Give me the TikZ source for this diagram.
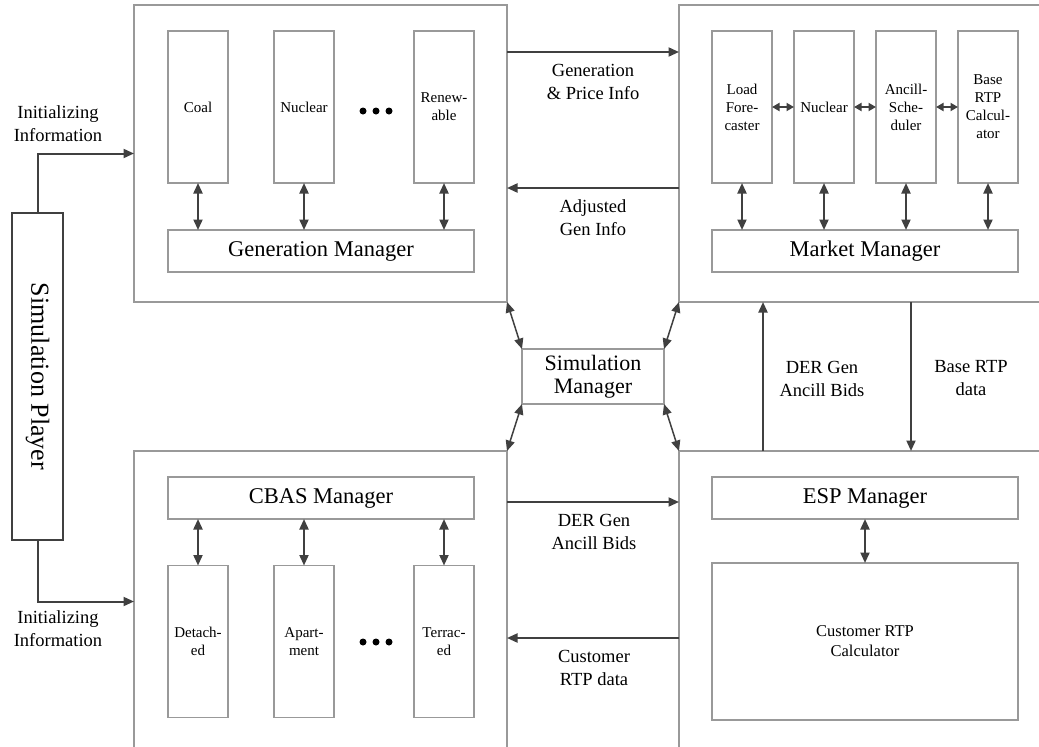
\documentclass[tikz,border=0pt]{standalone}
\usepackage{fontspec}
\setmainfont{Liberation Serif}
\usepackage{tikz}
\usetikzlibrary{arrows.meta}
\definecolor{boxgray}{HTML}{999999}
\definecolor{linegray}{HTML}{404040}

\begin{document}
\begin{tikzpicture}[x=1pt, y=-1pt,
  >={Triangle[length=10.5pt, width=9pt]},
  bigbox/.style={draw=boxgray, line width=1.2, inner sep=0, outer sep=0},
  unit/.style={draw=boxgray, line width=1.2, minimum width=60, minimum height=152,
    inner sep=0, outer sep=0, align=center, font=\fontsize{15}{18}\selectfont},
  mgr/.style={draw=boxgray, line width=1.2, minimum width=306, minimum height=42,
    inner sep=0, outer sep=0, font=\fontsize{22.5}{27}\selectfont},
  lbl/.style={align=center, inner sep=0, font=\fontsize{18.5}{23}\selectfont},
  link/.style={->, draw=linegray, line width=2},
  dlink/.style={<->, draw=linegray, line width=2},
  hlink/.style={{Triangle[length=7.5pt, width=8pt]}-{Triangle[length=7.5pt, width=8pt]}, draw=linegray, line width=2},
  slink/.style={<->, draw=linegray, line width=1.5}]
  \fill[white] (0,0) rectangle (1039,747);
  \useasboundingbox (0,0) rectangle (1039,747);
  \clip (0,0) rectangle (1039,747);

  % Simulation player
  \node[draw=linegray, line width=1.2, minimum width=51, minimum height=327, inner sep=0, outer sep=0] (player) at (37.5,376.5) {};
  \node[rotate=-90, font=\fontsize{26}{30}\selectfont] (playertxt) at (37.5,376.5) {Simulation Player};

  % Generation side
  \node[bigbox, minimum width=373, minimum height=297] (gen) at (320.5,153.5) {};
  \node[unit] (coal) at (198,107) {Coal};
  \node[unit] (gnuc) at (304,107) {Nuclear};
  \node[unit] (renew) at (444,107) {Renew-\\able};
  \node[mgr] (genm) at (321,251) {Generation Manager};
  \foreach \dx in {-13,0,13} \fill[black] (376+\dx,111) circle (3.5);
  \draw[dlink] (coal.south) -- (coal.south |- genm.north);
  \draw[dlink] (gnuc.south) -- (gnuc.south |- genm.north);
  \draw[dlink] (renew.south) -- (renew.south |- genm.north);

  % Market side
  \node[bigbox, minimum width=366, minimum height=297] (mkt) at (862,153.5) {};
  \node[unit] (load) at (742,107) {Load\\Fore-\\caster};
  \node[unit] (mnuc) at (824,107) {Nuclear};
  \node[unit] (ancill) at (906,107) {Ancill-\\Sche-\\duler};
  \node[unit] (basertp) at (988,107) {Base\\RTP\\Calcul-\\ator};
  \node[mgr] (mktm) at (865,251) {Market Manager};
  \draw[hlink] (load.east) -- (mnuc.west);
  \draw[hlink] (mnuc.east) -- (ancill.west);
  \draw[hlink] (ancill.east) -- (basertp.west);
  \draw[dlink] (load.south) -- (load.south |- mktm.north);
  \draw[dlink] (mnuc.south) -- (mnuc.south |- mktm.north);
  \draw[dlink] (ancill.south) -- (ancill.south |- mktm.north);
  \draw[dlink] (basertp.south) -- (basertp.south |- mktm.north);

  % CBAS side
  \node[bigbox, minimum width=373, minimum height=301] (cbas) at (320.5,601.5) {};
  \node[mgr] (cbasm) at (321,498) {CBAS Manager};
  \node[unit] (detached) at (198,641.5) {Detach-\\ed};
  \node[unit] (apart) at (304,641.5) {Apart-\\ment};
  \node[unit] (terraced) at (444,641.5) {Terrac-\\ed};
  \foreach \dx in {-13,0,13} \fill[black] (376+\dx,642) circle (3.5);
  \draw[dlink] (detached.north) -- (detached.north |- cbasm.south);
  \draw[dlink] (apart.north) -- (apart.north |- cbasm.south);
  \draw[dlink] (terraced.north) -- (terraced.north |- cbasm.south);

  % ESP side
  \node[bigbox, minimum width=366, minimum height=301] (esp) at (862,601.5) {};
  \node[mgr] (espm) at (865,498) {ESP Manager};
  \node[draw=boxgray, line width=1.2, minimum width=306, minimum height=157, inner sep=0, outer sep=0,
    align=center, font=\fontsize{16.5}{20}\selectfont] (custcalc) at (865,641.5) {Customer RTP\\Calculator};
  \draw[dlink] (espm.south) -- (custcalc.north);

  % Simulation manager
  \node[draw=boxgray, line width=1.2, minimum width=142, minimum height=55, inner sep=0, outer sep=0,
    align=center, font=\fontsize{22}{23}\selectfont] (simm) at (593,376.5) {Simulation\\Manager};
  \draw[slink] (gen.south east) -- (simm.north west);
  \draw[slink] (mkt.south west) -- (simm.north east);
  \draw[slink] (cbas.north east) -- (simm.south west);
  \draw[slink] (esp.north west) -- (simm.south east);

  % Initializing links
  \draw[link] (player.north) |- (gen.west);
  \draw[link] (player.south) |- (cbas.west);
  \node[lbl] (init1) at (58,124) {Initializing\\Information};
  \node[lbl] (init2) at (58,629) {Initializing\\Information};

  % Links between blocks
  \draw[link] (gen.east |- 0,52) -- (mkt.west |- 0,52);
  \node[lbl] (gpinfo) at (593,81.5) {Generation\\\& Price Info};
  \draw[link] (mkt.west |- 0,188) -- (gen.east |- 0,188);
  \node[lbl] (adjinfo) at (593,217.5) {Adjusted\\Gen Info};
  \draw[link] (cbas.east |- 0,502) -- (esp.west |- 0,502);
  \node[lbl] (derbids1) at (594,531.5) {DER Gen\\Ancill Bids};
  \draw[link] (esp.west |- 0,638) -- (cbas.east |- 0,638);
  \node[lbl] (custdata) at (594,668) {Customer\\RTP data};
  \draw[link] (esp.north -| 763,0) -- (mkt.south -| 763,0);
  \node[lbl] (derbids2) at (822,378.5) {DER Gen\\Ancill Bids};
  \draw[link] (mkt.south -| 911,0) -- (esp.north -| 911,0);
  \node[lbl] (basedata) at (971,378.5) {Base RTP\\data};
\end{tikzpicture}
\end{document}
